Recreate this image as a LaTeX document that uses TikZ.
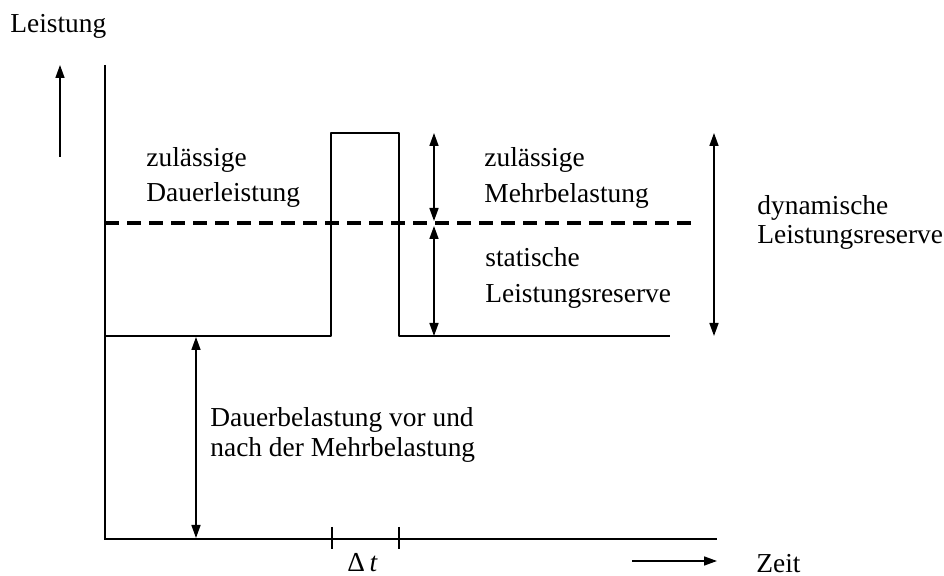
\documentclass[tikz,border=0pt]{standalone}
\usepackage{fontspec}
\setmainfont{Liberation Serif}
\usetikzlibrary{arrows.meta}
\begin{document}
\begin{tikzpicture}[x=0.5pt,y=-0.5pt,
  lbl/.style={anchor=base west, inner sep=0pt, align=left},
  sz/.style={font=\fontsize{13.7}{#1}\selectfont},
  axisline/.style={line width=1.1pt},
  curve/.style={line width=1.4pt, line join=round},
  dashline/.style={line width=1.6pt, dash pattern=on 7pt off 4pt},
  dim/.style={line width=0.8pt, {Triangle[length=6.5pt,width=4.5pt]}-{Triangle[length=6.5pt,width=4.5pt]}},
  onearrow/.style={line width=0.8pt, -{Triangle[length=6.5pt,width=4.5pt]}},
  tick/.style={line width=1.1pt}
]
\useasboundingbox (0,0) rectangle (944,576);
% axes
\coordinate (ytop) at (105,65);
\coordinate (origin) at (105,539);
\coordinate (xend) at (717,539);
\draw[axisline] (ytop) -- (origin) -- (xend);
% load curve
\coordinate (c0) at (105,336);
\coordinate (p1) at (331,336);
\coordinate (p2) at (331,133);
\coordinate (p3) at (399,133);
\coordinate (p4) at (399,336);
\coordinate (c5) at (670,336);
\draw[curve] (c0) -- (p1) -- (p2) -- (p3) -- (p4) -- (c5);
% dashed permissible level
\coordinate (d0) at (105,223);
\coordinate (d1) at (695,223);
\draw[dashline] (d0) -- (d1);
% dimension arrows
\coordinate (a1t) at (434,133);
\coordinate (a1b) at (434,221);
\coordinate (a2t) at (434,226);
\coordinate (a2b) at (434,336);
\draw[dim] (a1t) -- (a1b);
\draw[dim] (a2t) -- (a2b);
\coordinate (dyt) at (714,133);
\coordinate (dyb) at (714,336);
\draw[dim] (dyt) -- (dyb);
\coordinate (dbt) at (196,337);
\coordinate (dbb) at (196,538);
\draw[dim] (dbt) -- (dbb);
% delta t ticks
\coordinate (t1a) at (332,527);
\coordinate (t1b) at (332,549);
\coordinate (t2a) at (399,527);
\coordinate (t2b) at (399,549);
\draw[tick] (t1a) -- (t1b);
\draw[tick] (t2a) -- (t2b);
% direction arrows
\coordinate (la0) at (60,157);
\coordinate (la1) at (60,65);
\draw[onearrow] (la0) -- (la1);
\coordinate (za0) at (632,561);
\coordinate (za1) at (717,561);
\draw[onearrow] (za0) -- (za1);
% labels (anchored at the baseline of the last line)
\node[lbl, sz=16] (leist) at (10,33) {Leistung};
\node[lbl, sz=16] (zeit) at (756,573) {Zeit};
\node[lbl, sz=16] (dt) at (347,572) {Δ\,\textit{t}};
\node[lbl, sz=17.5] (zdl) at (146,202) {zulässige\\Dauerleistung};
\node[lbl, sz=18] (zmb) at (484,203) {zulässige\\Mehrbelastung};
\node[lbl, sz=18] (slr) at (485,303) {statische\\Leistungsreserve};
\node[lbl, sz=14.5] (dlr) at (757,244) {dynamische\\Leistungsreserve};
\node[lbl, sz=15] (dbl) at (210,457) {Dauerbelastung vor und\\nach der Mehrbelastung};
\end{tikzpicture}
\end{document}
